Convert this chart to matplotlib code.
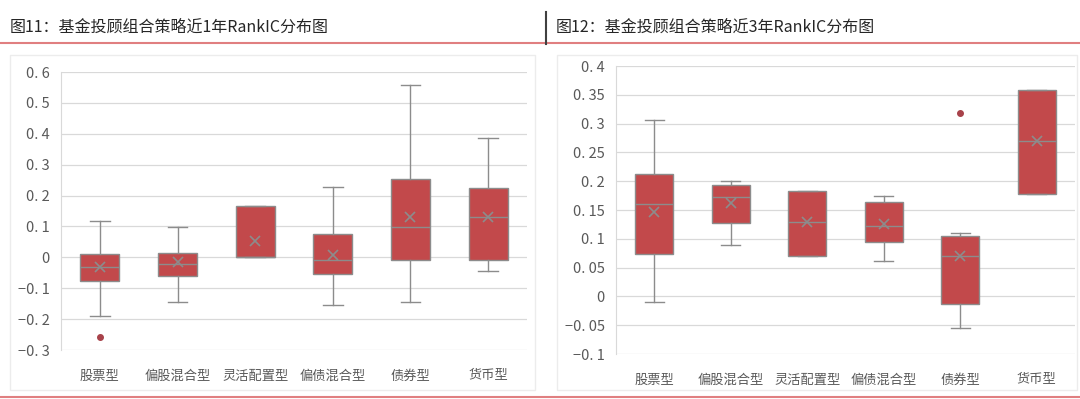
import matplotlib
matplotlib.use("Agg")
import matplotlib.pyplot as plt
from matplotlib.lines import Line2D
from matplotlib.patches import Rectangle

plt.rcParams['font.family'] = ['Noto Sans CJK SC', 'DejaVu Sans']

categories = ['股票型', '偏股混合型', '灵活配置型', '偏债混合型', '债券型', '货币型']

# 近1年
y1_whislo = [-0.19, -0.144, 0.0, -0.154, -0.144, -0.043]
y1_q1 = [-0.076, -0.062, 0.0, -0.053, -0.008, -0.008]
y1_med = [-0.03, -0.02, 0.0, -0.01, 0.099, 0.131]
y1_mean = [-0.03, -0.016, 0.054, 0.009, 0.131, 0.131]
y1_q3 = [0.01, 0.013, 0.165, 0.076, 0.252, 0.225]
y1_whishi = [0.118, 0.099, 0.165, 0.228, 0.557, 0.385]
y1_fliers = [[-0.257], [], [], [], [], []]

# 近3年
y3_whislo = [-0.01, 0.09, 0.07, 0.061, -0.055, 0.178]
y3_q1 = [0.074, 0.128, 0.07, 0.094, -0.014, 0.178]
y3_med = [0.16, 0.172, 0.13, 0.122, 0.071, 0.27]
y3_mean = [0.146, 0.162, 0.13, 0.126, 0.071, 0.27]
y3_q3 = [0.213, 0.193, 0.183, 0.164, 0.105, 0.359]
y3_whishi = [0.307, 0.2, 0.183, 0.174, 0.11, 0.359]
y3_fliers = [[], [], [], [], [0.319], []]

BOX = '#c2494b'
GRAY = '#8c8c8c'
TXT = '#595959'
REDLINE = '#e07f80'


def make_stats(whislo, q1, med, mean, q3, whishi, fliers):
    stats = []
    for i in range(len(categories)):
        stats.append(dict(whislo=whislo[i], q1=q1[i], med=med[i], mean=mean[i],
                          q3=q3[i], whishi=whishi[i], fliers=fliers[i]))
    return stats


def draw_box(ax, stats, ticks, ylim):
    ax.bxp(stats, positions=range(1, len(categories) + 1), widths=0.5,
           patch_artist=True, showmeans=True,
           boxprops=dict(facecolor=BOX, edgecolor=GRAY, linewidth=1.0),
           medianprops=dict(color=GRAY, linewidth=1.0),
           whiskerprops=dict(color=GRAY, linewidth=1.0),
           capprops=dict(color=GRAY, linewidth=1.0),
           meanprops=dict(marker='x', markeredgecolor=GRAY, markersize=7, markeredgewidth=1.2),
           flierprops=dict(marker='o', markerfacecolor='#a8424a', markeredgecolor='#a8424a', markersize=4))
    ax.set_xlim(0.5, len(categories) + 0.5)
    ax.set_ylim(*ylim)
    ax.set_yticks(ticks)
    ax.set_yticklabels([('%g' % t).replace('-', '−').replace('.', '. ') for t in ticks])
    ax.set_xticks(range(1, len(categories) + 1))
    ax.set_xticklabels(categories)
    ax.grid(axis='y', color='#d9d9d9', linewidth=0.9)
    ax.set_axisbelow(True)
    for s in ['top', 'right', 'bottom']:
        ax.spines[s].set_visible(False)
    ax.spines['left'].set_color('#d9d9d9')
    ax.tick_params(axis='both', length=0, colors=TXT, labelsize=10.5)
    ax.tick_params(axis='x', pad=14, labelsize=9.5)
    ax.tick_params(axis='y', pad=8)


fig = plt.figure(figsize=(10.8, 3.99), dpi=100)

# frames around each chart
fig.patches.append(Rectangle((10 / 1080, 1 - 390 / 399), 525 / 1080, 335 / 399,
                             transform=fig.transFigure, fill=False, edgecolor='#ececec', linewidth=1))
fig.patches.append(Rectangle((557 / 1080, 1 - 390 / 399), 520 / 1080, 335 / 399,
                             transform=fig.transFigure, fill=False, edgecolor='#ececec', linewidth=1))

ax1 = fig.add_axes([61 / 1080, 1 - 350 / 399, 466 / 1080, 278 / 399])
draw_box(ax1, make_stats(y1_whislo, y1_q1, y1_med, y1_mean, y1_q3, y1_whishi, y1_fliers),
         [-0.3, -0.2, -0.1, 0, 0.1, 0.2, 0.3, 0.4, 0.5, 0.6], (-0.3, 0.6))

ax2 = fig.add_axes([616 / 1080, 1 - 354 / 399, 459 / 1080, 288 / 399])
draw_box(ax2, make_stats(y3_whislo, y3_q1, y3_med, y3_mean, y3_q3, y3_whishi, y3_fliers),
         [-0.1, -0.05, 0, 0.05, 0.1, 0.15, 0.2, 0.25, 0.3, 0.35, 0.4], (-0.1, 0.4))

# titles
fig.text(10 / 1080, 1 - 27 / 399, '图11：基金投顾组合策略近1年RankIC分布图', fontsize=11.5,
         color='#262626', va='center', ha='left')
fig.text(556 / 1080, 1 - 27 / 399, '图12：基金投顾组合策略近3年RankIC分布图', fontsize=11.5,
         color='#262626', va='center', ha='left')

# decoration lines
fig.lines.append(Line2D([0, 1], [1 - 43 / 399, 1 - 43 / 399], transform=fig.transFigure,
                        color=REDLINE, linewidth=1.5))
fig.lines.append(Line2D([0, 1], [1 - 397 / 399, 1 - 397 / 399], transform=fig.transFigure,
                        color=REDLINE, linewidth=1.5))
fig.lines.append(Line2D([546 / 1080, 546 / 1080], [1 - 12 / 399, 1 - 44 / 399], transform=fig.transFigure,
                        color='#404040', linewidth=1.5))

fig.savefig('out.png', dpi=100)
